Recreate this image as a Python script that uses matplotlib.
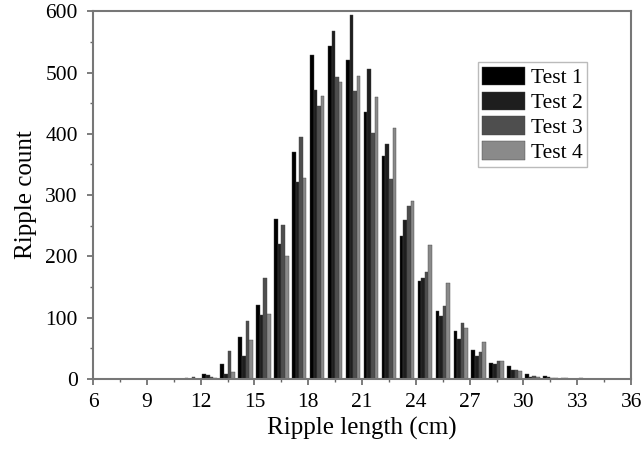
import numpy as np
import matplotlib.pyplot as plt
from matplotlib.ticker import MultipleLocator

plt.rcParams['font.family'] = ['Liberation Serif', 'DejaVu Serif']

# bin centres (cm)
bins = [11.5, 12.5, 13.5, 14.5, 15.5, 16.5, 17.5, 18.5, 19.5, 20.5, 21.5, 22.5,
        23.5, 24.5, 25.5, 26.5, 27.5, 28.5, 29.5, 30.5, 31.5, 32.5, 33.5, 34.5]

test1 = [2, 8, 24, 68, 121, 261, 371, 528, 544, 520, 435, 363,
         233, 160, 111, 79, 47, 26, 21, 8, 5, 1, 1, 0.5]
test2 = [0, 6, 8, 38, 104, 221, 322, 471, 568, 594, 506, 384,
         259, 164, 103, 66, 38, 24, 15, 4, 3, 1, 0.5, 0]
test3 = [3, 4, 46, 94, 165, 252, 395, 445, 492, 470, 401, 327,
         283, 175, 119, 92, 44, 29, 14, 5, 2, 0.5, 0.5, 0]
test4 = [0, 2, 11, 63, 106, 201, 328, 462, 484, 495, 460, 410,
         291, 218, 156, 83, 60, 29, 13, 4, 1, 0.5, 0, 0]

labels = ['Test 1', 'Test 2', 'Test 3', 'Test 4']
colors = ['#000000', '#1e1e1e', '#4e4e4e', '#8a8a8a']

fig, ax = plt.subplots(figsize=(6.42, 4.49), dpi=100)
fig.subplots_adjust(left=0.145, right=0.983, top=0.975, bottom=0.156)

x = np.array(bins)
w = 0.2
for i, vals in enumerate([test1, test2, test3, test4]):
    ax.bar(x - 0.3 + i * w, vals, width=w, color=colors[i], label=labels[i],
           edgecolor='#444444', linewidth=0.3)

ax.set_xlim(6, 36)
ax.set_ylim(0, 600)
ax.set_xticks(range(6, 37, 3))
ax.set_yticks(range(0, 601, 100))
ax.xaxis.set_minor_locator(MultipleLocator(1.5))
ax.yaxis.set_minor_locator(MultipleLocator(50))
ax.tick_params(axis='both', which='major', direction='out', length=4, width=1.2,
               color='#666666', labelsize=15.5)
ax.tick_params(axis='x', which='major', pad=6)
ax.tick_params(axis='y', which='major', pad=7)
ax.tick_params(axis='both', which='minor', direction='out', length=2.5, width=1.0,
               color='#666666')
for s in ax.spines.values():
    s.set_color('#777777')
    s.set_linewidth(1.5)

ax.set_xlabel('Ripple length (cm)', fontsize=18, labelpad=4)
ax.set_ylabel('Ripple count', fontsize=18, labelpad=6)

leg = ax.legend(loc='upper left', bbox_to_anchor=(0.7156, 0.861), fontsize=15.5,
                fancybox=False, framealpha=1, edgecolor='#bbbbbb',
                handlelength=2.0, handleheight=0.95, handletextpad=0.25,
                labelspacing=0.15, borderpad=0.2, borderaxespad=0)

fig.savefig('out.png', dpi=100)
